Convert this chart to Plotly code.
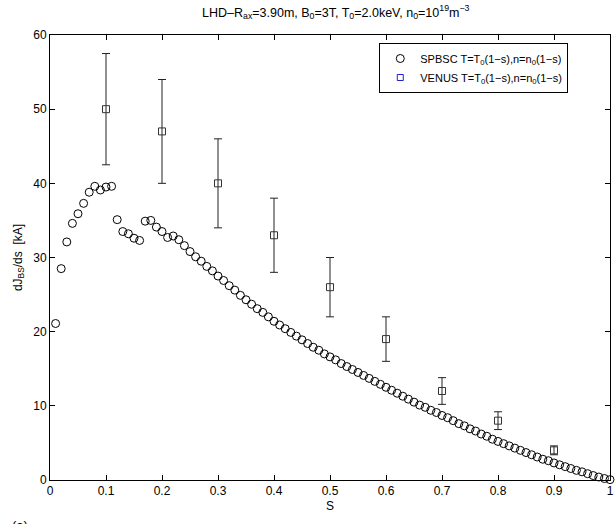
import plotly.graph_objects as go

# SPBSC profile (s = 0.01 ... 1.00)
s_spbsc = [0.01, 0.02, 0.03, 0.04, 0.05, 0.06, 0.07, 0.08, 0.09, 0.10,
           0.11, 0.12, 0.13, 0.14, 0.15, 0.16, 0.17, 0.18, 0.19, 0.20,
           0.21, 0.22, 0.23, 0.24, 0.25, 0.26, 0.27, 0.28, 0.29, 0.30,
           0.31, 0.32, 0.33, 0.34, 0.35, 0.36, 0.37, 0.38, 0.39, 0.40,
           0.41, 0.42, 0.43, 0.44, 0.45, 0.46, 0.47, 0.48, 0.49, 0.50,
           0.51, 0.52, 0.53, 0.54, 0.55, 0.56, 0.57, 0.58, 0.59, 0.60,
           0.61, 0.62, 0.63, 0.64, 0.65, 0.66, 0.67, 0.68, 0.69, 0.70,
           0.71, 0.72, 0.73, 0.74, 0.75, 0.76, 0.77, 0.78, 0.79, 0.80,
           0.81, 0.82, 0.83, 0.84, 0.85, 0.86, 0.87, 0.88, 0.89, 0.90,
           0.91, 0.92, 0.93, 0.94, 0.95, 0.96, 0.97, 0.98, 0.99, 1.00]
dj_spbsc = [21.1, 28.5, 32.1, 34.6, 35.9, 37.3, 38.8, 39.6, 39.1, 39.5,
            39.6, 35.1, 33.5, 33.2, 32.6, 32.3, 34.9, 35.0, 34.1, 33.5,
            32.7, 32.9, 32.4, 31.6, 30.8, 30.1, 29.5, 28.8, 28.2, 27.5,
            26.9, 26.2, 25.6, 24.9, 24.3, 23.7, 23.1, 22.6, 22.0, 21.4,
            20.9, 20.4, 19.9, 19.4, 18.9, 18.4, 17.9, 17.5, 17.0, 16.6,
            16.2, 15.7, 15.3, 14.9, 14.5, 14.1, 13.7, 13.3, 12.9, 12.5,
            12.1, 11.7, 11.3, 10.9, 10.5, 10.1, 9.8, 9.4, 9.1, 8.7,
            8.4, 8.0, 7.6, 7.3, 6.9, 6.6, 6.2, 5.9, 5.5, 5.2,
            4.9, 4.6, 4.3, 4.0, 3.7, 3.4, 3.1, 2.8, 2.6, 2.3,
            2.05, 1.8, 1.55, 1.3, 1.1, 0.85, 0.6, 0.4, 0.2, 0.05]

# VENUS results with error bars
s_venus = [0.1, 0.2, 0.3, 0.4, 0.5, 0.6, 0.7, 0.8, 0.9]
dj_venus = [50.0, 47.0, 40.0, 33.0, 26.0, 19.0, 12.0, 8.0, 4.0]
err_venus = [7.5, 7.0, 6.0, 5.0, 4.0, 3.0, 1.8, 1.2, 0.6]

x_ticks = [0, 0.1, 0.2, 0.3, 0.4, 0.5, 0.6, 0.7, 0.8, 0.9, 1]
x_ticklabels = ["0", "0.1", "0.2", "0.3", "0.4", "0.5", "0.6", "0.7", "0.8", "0.9", "1"]
y_ticks = [0, 10, 20, 30, 40, 50, 60]

FONT = "Liberation Sans, Arial, Helvetica, sans-serif"

fig = go.Figure()

fig.add_trace(go.Scatter(
    x=s_spbsc, y=dj_spbsc, mode="markers",
    name="SPBSC T=T<sub>0</sub>(1\u2212s),n=n<sub>0</sub>(1\u2212s)",
    marker=dict(symbol="circle-open", size=8, color="black", line=dict(width=1)),
    cliponaxis=False,
))

fig.add_trace(go.Scatter(
    x=s_venus, y=dj_venus, mode="markers",
    showlegend=False,
    marker=dict(symbol="square-open", size=7, color="#333333", line=dict(width=1)),
    error_y=dict(type="data", array=err_venus, visible=True, color="#222222",
                 thickness=1, width=4),
    cliponaxis=False,
))

fig.add_trace(go.Scatter(
    x=[None], y=[None], mode="markers",
    name="VENUS T=T<sub>0</sub>(1\u2212s),n=n<sub>0</sub>(1\u2212s)",
    marker=dict(symbol="square-open", size=6, color="#1f1fd0", line=dict(width=1)),
))

axis_common = dict(
    showline=True, linecolor="black", linewidth=1, mirror="ticks",
    ticks="inside", ticklen=5, tickcolor="black", tickwidth=1,
    showgrid=False, zeroline=False, ticklabeloverflow="allow",
    tickfont=dict(family=FONT, size=12, color="black"),
)

fig.update_layout(
    width=616, height=524,
    margin=dict(l=50, r=2, t=35, b=44),
    paper_bgcolor="white", plot_bgcolor="white",
    font=dict(family=FONT, size=12, color="black"),
    title=dict(
        text="LHD\u2013R<sub>ax</sub>=3.90m, B<sub>0</sub>=3T, T<sub>0</sub>=2.0keV, n<sub>0</sub>=10<sup>19</sup>m<sup>\u22123</sup>",
        x=0.545, xanchor="center", y=0.985, yanchor="top",
        font=dict(family=FONT, size=12.5, color="black"),
    ),
    xaxis=dict(range=[0, 1], tickvals=x_ticks, ticktext=x_ticklabels,
               title=dict(text="S", font=dict(family=FONT, size=12), standoff=4),
               **axis_common),
    yaxis=dict(range=[0, 60], tickvals=y_ticks,
               title=dict(text="dJ<sub>BS</sub>/ds  [kA]", font=dict(family=FONT, size=12), standoff=8),
               **axis_common),
    legend=dict(
        x=0.588, y=0.982, xanchor="left", yanchor="top",
        bgcolor="white", bordercolor="black", borderwidth=1,
        font=dict(family=FONT, size=11, color="black"),
        tracegroupgap=0,
    ),
    showlegend=True,
)

fig.add_annotation(
    text="(a)", xref="paper", yref="paper", x=-0.072, y=-0.08,
    xanchor="left", yanchor="top", showarrow=False,
    font=dict(family=FONT, size=13, color="black"),
)

fig.write_html("out.html")
